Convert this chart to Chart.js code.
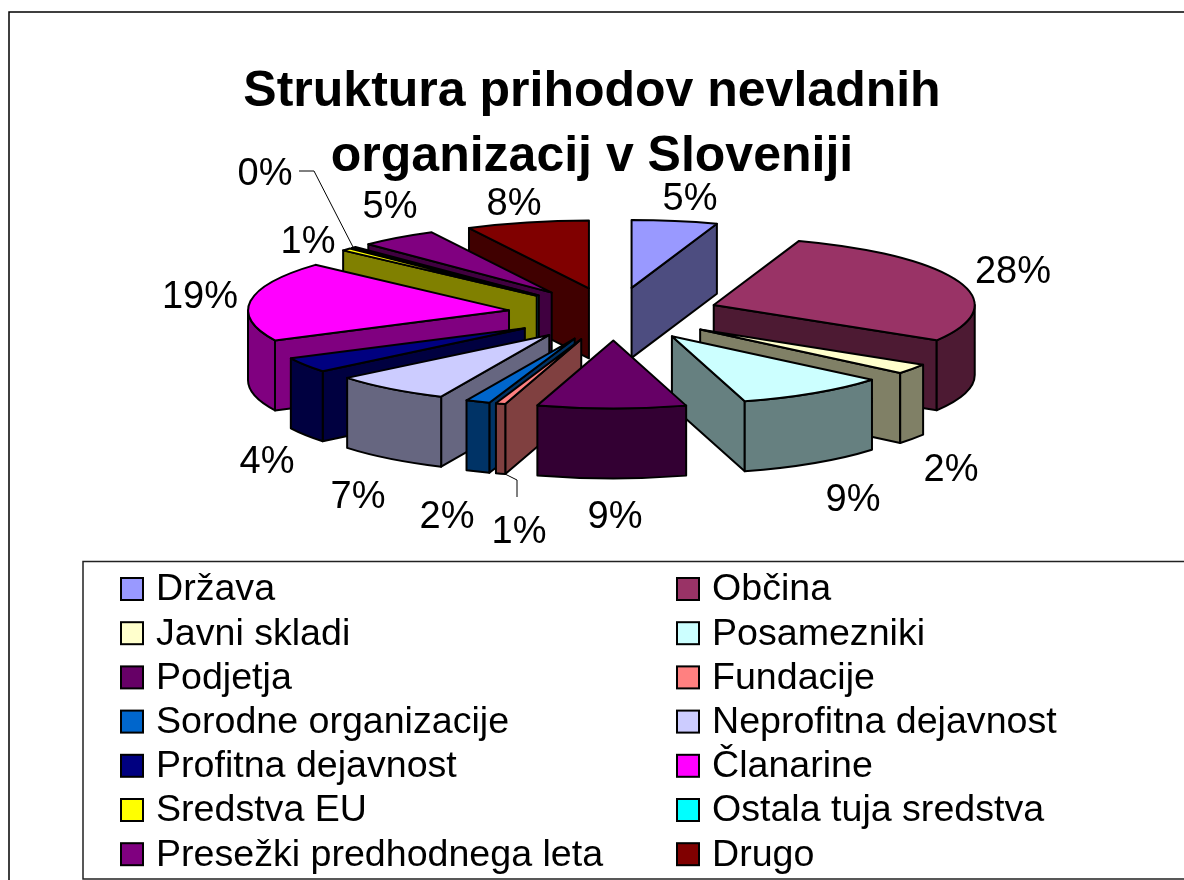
<!DOCTYPE html>
<html><head><meta charset="utf-8">
<style>html,body{margin:0;padding:0;background:#fff}canvas{display:block}</style>
<script src="https://cdn.jsdelivr.net/npm/chart.js@4"></script></head>
<body><canvas id="c" width="1184" height="880"></canvas>
<script>
const categories = ['Država','Občina','Javni skladi','Posamezniki','Podjetja','Fundacije','Sorodne organizacije','Neprofitna dejavnost','Profitna dejavnost','Članarine','Sredstva EU','Ostala tuja sredstva','Presežki predhodnega leta','Drugo'];
const shares = [5.3,28.4,2.4,9.4,9.2,0.6,1.5,7.3,3.6,19.0,0.6,0.3,4.8,7.6];
const colours = ['#9999FF','#993366','#FFFFCC','#CCFFFF','#660066','#FF8080','#0066CC','#CCCCFF','#000080','#FF00FF','#FFFF00','#00FFFF','#800080','#800000'];
const titleLines = ['Struktura prihodov nevladnih','organizacij v Sloveniji'];
const labelCentres = [[690,200],[1013,273],[951,471],[853,501],[615,518],[519,533],[447,518],[358,498],[267,463],[200,298],[308,243],[265,175],[390,208],[514,205]];
const leaders = [[[299,171],[314,171],[353,247]],[[517,497],[517,480],[505,474]]];
const FONT = '"Liberation Sans", Arial, sans-serif';
const YK = 0.26, DEPTH = 70, PIE_SHIFT_X = 22;

function shade(hex){
  const n = parseInt(hex.slice(1),16);
  const f = v => Math.round(v*0.5);
  return `rgb(${f(n>>16&255)},${f(n>>8&255)},${f(n&255)})`;
}
const pie3d = {
  id:'pie3d',
  beforeDatasetDraw(chart,args){
    const ctx = chart.ctx, arcs = args.meta.data.map(el=>{
      const p = el.getProps(['x','y','startAngle','endAngle','outerRadius'],true);
      const mid = (p.startAngle+p.endAngle)/2, off = el.options.offset;
      return {...p, mid, bg:el.options.backgroundColor,
        ax:p.x+PIE_SHIFT_X+Math.cos(mid)*off, ay:p.y+Math.sin(mid)*off*YK*0.96};
    }).sort((a,b)=>a.ay-b.ay);
    ctx.save();
    ctx.strokeStyle='#000'; ctx.lineWidth=2; ctx.lineJoin='round';
    for(const s of arcs){
      const rx=s.outerRadius, ry=rx*YK;
      const rim=a=>[s.ax+Math.cos(a)*rx, s.ay+Math.sin(a)*ry];
      const wall=a=>{
        const [x,y]=rim(a);
        ctx.beginPath(); ctx.moveTo(s.ax,s.ay); ctx.lineTo(x,y); ctx.lineTo(x,y+DEPTH); ctx.lineTo(s.ax,s.ay+DEPTH); ctx.closePath();
        ctx.fillStyle=shade(s.bg); ctx.fill(); ctx.stroke();
      };
      if(Math.cos(s.startAngle)<-1e-6) wall(s.startAngle);
      if(Math.cos(s.endAngle)>1e-6) wall(s.endAngle);
      // outer curved wall: the part of the rim that faces the viewer
      for(const k of [0,2]){
        const lo=Math.max(s.startAngle,k*Math.PI), hi=Math.min(s.endAngle,k*Math.PI+Math.PI);
        if(hi>lo){
          ctx.beginPath();
          ctx.ellipse(s.ax,s.ay,rx,ry,0,lo,hi,false);
          ctx.ellipse(s.ax,s.ay+DEPTH,rx,ry,0,hi,lo,true);
          ctx.closePath(); ctx.fillStyle=shade(s.bg); ctx.fill(); ctx.stroke();
        }
      }
      ctx.beginPath(); ctx.moveTo(s.ax,s.ay);
      ctx.ellipse(s.ax,s.ay,rx,ry,0,s.startAngle,s.endAngle,false);
      ctx.closePath(); ctx.fillStyle=s.bg; ctx.fill(); ctx.stroke();
    }
    ctx.restore();
    return false;
  },
  afterDraw(chart){
    const ctx=chart.ctx; ctx.save();
    // outer frame
    ctx.strokeStyle='#000'; ctx.lineWidth=1.5;
    ctx.beginPath(); ctx.moveTo(9,880); ctx.lineTo(9,12); ctx.lineTo(1184,12); ctx.stroke();
    // slice labels
    ctx.fillStyle='#000'; ctx.textAlign='center'; ctx.textBaseline='middle'; ctx.font='38px '+FONT;
    shares.forEach((v,i)=>ctx.fillText(Math.round(v)+'%',labelCentres[i][0],labelCentres[i][1]));
    ctx.lineWidth=1;
    leaders.forEach(l=>{ctx.beginPath();l.forEach((p,i)=>i?ctx.lineTo(p[0],p[1]):ctx.moveTo(p[0],p[1]));ctx.stroke();});
    // legend
    ctx.lineWidth=1.5; ctx.strokeStyle='#222';
    ctx.beginPath(); ctx.moveTo(1184,561.5); ctx.lineTo(83,561.5); ctx.lineTo(83,879); ctx.lineTo(1184,879); ctx.stroke();
    ctx.textAlign='left'; ctx.font='37.6px '+FONT;
    categories.forEach((c,i)=>{
      const col=i%2, row=Math.floor(i/2), x=col?676:120, y=589+row*44.2;
      ctx.fillStyle=colours[i]; ctx.strokeStyle='#000'; ctx.lineWidth=2;
      ctx.fillRect(x+1,y-11,22,22); ctx.strokeRect(x+1,y-11,22,22);
      ctx.fillStyle='#000'; ctx.fillText(c,x+36,y+1);
    });
    ctx.restore();
  }
};
new Chart(document.getElementById('c'),{
  type:'pie',
  data:{labels:categories,datasets:[{data:shares,backgroundColor:colours,borderColor:'#000',borderWidth:2,offset:106}]},
  options:{
    responsive:false,animation:false,radius:261,
    layout:{padding:{left:0,top:0,right:0,bottom:442}},
    plugins:{
      legend:{display:false},tooltip:{enabled:false},
      title:{display:true,text:titleLines,color:'#000',align:'center',
        font:{family:FONT,size:50,weight:'bold',lineHeight:1.3},padding:{top:60,bottom:0}}
    }
  },
  plugins:[pie3d]
});
</script></body></html>
